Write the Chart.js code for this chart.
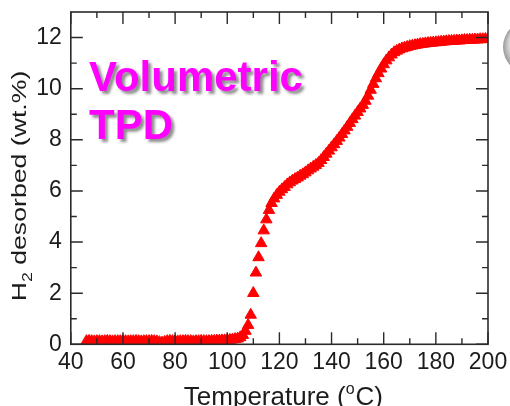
<!DOCTYPE html>
<html>
<head>
<meta charset="utf-8">
<script src="https://cdn.jsdelivr.net/npm/chart.js@4.4.1/dist/chart.umd.min.js"></script>
<style>
  html, body { margin: 0; padding: 0; background: #fff; }
  #wrap { width: 510px; height: 406px; position: relative; overflow: hidden; }
</style>
</head>
<body>
<div id="wrap"><canvas id="tpdChart" width="510" height="406"></canvas></div>
<script>
// ===== DATI =====
const temperature = [
  46, 47, 48, 49, 50, 51, 52, 53, 54, 55,
  56, 57, 58, 59, 60, 61, 62, 63, 64, 65,
  66, 67, 68, 69, 70, 71, 72, 73, 74, 75,
  76, 77, 78, 79, 80, 81, 82, 83, 84, 85,
  86, 87, 88, 89, 90, 91, 92, 93, 94, 95,
  96, 97, 98, 99, 100, 101, 102, 103, 104, 105,
  106, 107, 108, 109, 110, 111, 112, 113, 114, 115,
  116, 117, 118, 119, 120, 121, 122, 123, 124, 125,
  126, 127, 128, 129, 130, 131, 132, 133, 134, 135,
  136, 137, 138, 139, 140, 141, 142, 143, 144, 145,
  146, 147, 148, 149, 150, 151, 152, 153, 154, 155,
  156, 157, 158, 159, 160, 161, 162, 163, 164, 165,
  166, 167, 168, 169, 170, 171, 172, 173, 174, 175,
  176, 177, 178, 179, 180, 181, 182, 183, 184, 185,
  186, 187, 188, 189, 190, 191, 192, 193, 194, 195,
  196, 197, 198, 199, 200,
];

const h2Desorbed = [
  0.12, 0.13, 0.12, 0.11, 0.12, 0.12, 0.11, 0.12, 0.13, 0.12,
  0.11, 0.12, 0.12, 0.12, 0.13, 0.12, 0.11, 0.12, 0.12, 0.13,
  0.12, 0.11, 0.12, 0.12, 0.12, 0.13, 0.12, 0.11, 0.08, 0.06,
  0.09, 0.12, 0.13, 0.12, 0.12, 0.11, 0.12, 0.12, 0.13, 0.12,
  0.12, 0.11, 0.12, 0.12, 0.13, 0.12, 0.12, 0.12, 0.13, 0.13,
  0.14, 0.14, 0.15, 0.15, 0.16, 0.17, 0.18, 0.2, 0.22, 0.27,
  0.36, 0.52, 0.75, 1.15, 2.0, 2.8, 3.4, 3.95, 4.45, 4.88,
  5.25, 5.52, 5.7, 5.84, 5.96, 6.06, 6.15, 6.25, 6.33, 6.4,
  6.46, 6.52, 6.59, 6.65, 6.72, 6.8, 6.87, 6.94, 7.01, 7.09,
  7.2, 7.32, 7.45, 7.57, 7.7, 7.82, 7.95, 8.08, 8.22, 8.36,
  8.5, 8.65, 8.8, 8.94, 9.08, 9.22, 9.36, 9.52, 9.72, 9.95,
  10.18, 10.4, 10.6, 10.78, 10.95, 11.1, 11.22, 11.33, 11.42, 11.48,
  11.53, 11.57, 11.6, 11.63, 11.66, 11.68, 11.7, 11.72, 11.74, 11.75,
  11.77, 11.78, 11.79, 11.8, 11.81, 11.82, 11.83, 11.84, 11.85, 11.86,
  11.86, 11.87, 11.88, 11.88, 11.89, 11.9, 11.9, 11.91, 11.91, 11.92,
  11.92, 11.93, 11.93, 11.94, 11.94,
];

// tick (maggiori e minori)
const xTicks = [40, 60, 80, 100, 120, 140, 160, 180, 200];
const xMinorTicks = [50, 70, 90, 110, 130, 150, 170, 190];
const yTicks = [0, 2, 4, 6, 8, 10, 12];
const yMinorTicks = [1, 3, 5, 7, 9, 11];

const AXIS_COLOR = "#2a2a2a";
const TEXT_COLOR = "#1c1c1c";
const FONT = "'Liberation Sans', Arial, sans-serif";

// ===== CORNICE, TICK INTERNI, TITOLI =====
const framePlugin = {
  id: "frame",
  afterDraw(chart) {
    const { ctx, chartArea: a } = chart;
    const x = chart.scales.x;
    const y = chart.scales.y;

    ctx.save();
    ctx.strokeStyle = AXIS_COLOR;
    ctx.lineWidth = 1.6;
    ctx.strokeRect(a.left, a.top, a.right - a.left, a.bottom - a.top);

    ctx.lineWidth = 1.4;
    ctx.beginPath();
    const xTick = (v, len) => {
      const px = x.getPixelForValue(v);
      ctx.moveTo(px, a.bottom); ctx.lineTo(px, a.bottom - len);
      ctx.moveTo(px, a.top); ctx.lineTo(px, a.top + len);
    };
    const yTick = (v, len) => {
      const py = y.getPixelForValue(v);
      ctx.moveTo(a.left, py); ctx.lineTo(a.left + len, py);
      ctx.moveTo(a.right, py); ctx.lineTo(a.right - len, py);
    };
    xTicks.forEach((v) => xTick(v, 12));
    xMinorTicks.forEach((v) => xTick(v, 6));
    yTicks.forEach((v) => yTick(v, 12));
    yMinorTicks.forEach((v) => yTick(v, 6));
    ctx.stroke();

    // Titolo asse X con apice
    ctx.fillStyle = TEXT_COLOR;
    ctx.textBaseline = "alphabetic";
    ctx.textAlign = "left";
    const big = `26px ${FONT}`;
    const small = `16px ${FONT}`;
    ctx.font = big;
    const w1 = ctx.measureText("Temperature (").width;
    const w3 = ctx.measureText("C)").width;
    ctx.font = small;
    const w2 = ctx.measureText("o").width + 1;
    let cx = (a.left + a.right) / 2 + 4 - (w1 + w2 + w3) / 2;
    const base = 405;
    ctx.font = big;
    ctx.fillText("Temperature (", cx, base);
    ctx.font = small;
    ctx.fillText("o", cx + w1, base - 11);
    ctx.font = big;
    ctx.fillText("C)", cx + w1 + w2, base);

    // Titolo asse Y con pedice
    const yBig = `21px ${FONT}`;
    const ySmall = `14px ${FONT}`;
    const stretch = 1.27;
    ctx.font = yBig;
    const h1 = ctx.measureText("H").width;
    const h3 = ctx.measureText(" desorbed (wt.%)").width;
    ctx.font = ySmall;
    const h2 = ctx.measureText("2").width;
    const total = (h1 + h2 + h3) * stretch;
    ctx.translate(26, 186);
    ctx.rotate(-Math.PI / 2);
    ctx.scale(stretch, 1);
    let tx = -total / 2 / stretch;
    ctx.font = yBig;
    ctx.fillText("H", tx, 0);
    ctx.font = ySmall;
    ctx.fillText("2", tx + h1, 6);
    ctx.font = yBig;
    ctx.fillText(" desorbed (wt.%)", tx + h1 + h2, 0);
    ctx.restore();

    // Etichetta "Volumetric TPD"
    ctx.save();
    ctx.font = `bold 42px ${FONT}`;
    ctx.fillStyle = "#ff00ff";
    ctx.shadowColor = "rgba(0,0,0,0.45)";
    ctx.shadowOffsetX = 3;
    ctx.shadowOffsetY = 3;
    ctx.shadowBlur = 3;
    ctx.fillText("Volumetric", 89, 91);
    ctx.fillText("TPD", 89, 139);
    ctx.restore();

    // sfera grigia tagliata sul bordo destro
    ctx.save();
    const g = ctx.createRadialGradient(522, 40, 4, 530, 47, 27);
    g.addColorStop(0, "#ffffff");
    g.addColorStop(0.6, "#d8d8d8");
    g.addColorStop(1, "#9a9a9a");
    ctx.fillStyle = g;
    ctx.beginPath();
    ctx.arc(530, 47, 27, 0, Math.PI * 2);
    ctx.fill();
    ctx.restore();
  },
};

// ===== GRAFICO =====
const ctx = document.getElementById("tpdChart").getContext("2d");
const tpdChart = new Chart(ctx, {
  type: "scatter",
  data: {
    datasets: [
      {
        data: temperature.map((t, i) => ({ x: t, y: h2Desorbed[i] })),
        pointStyle: "triangle",
        pointRadius: 6.6,
        pointHoverRadius: 6.6,
        backgroundColor: "#ff0000",
        borderColor: "#ff0000",
        borderWidth: 1,
        showLine: false,
        clip: 0,
      },
    ],
  },
  options: {
    responsive: false,
    animation: false,
    devicePixelRatio: 1,
    layout: { padding: { top: 12, right: 22, left: 0, bottom: 0 } },
    plugins: { legend: { display: false }, tooltip: { enabled: false } },
    scales: {
      x: {
        type: "linear",
        min: 40,
        max: 200,
        grid: { display: false, drawTicks: false },
        border: { display: false },
        afterBuildTicks: (scale) => {
          scale.ticks = xTicks.map((v) => ({ value: v }));
        },
        afterFit: (scale) => {
          scale.height = 61.7;
          scale.paddingLeft = 0;
          scale.paddingRight = 0;
        },
        ticks: {
          padding: 5,
          color: TEXT_COLOR,
          font: { family: FONT, size: 23 },
          maxRotation: 0,
        },
      },
      y: {
        type: "linear",
        min: 0,
        max: 13,
        grid: { display: false, drawTicks: false },
        border: { display: false },
        afterBuildTicks: (scale) => {
          scale.ticks = yTicks.map((v) => ({ value: v }));
        },
        afterFit: (scale) => {
          scale.width = 70.8;
          scale.paddingTop = 0;
          scale.paddingBottom = 0;
        },
        ticks: {
          padding: 9,
          color: TEXT_COLOR,
          font: { family: FONT, size: 23 },
        },
      },
    },
  },
  plugins: [framePlugin],
});
</script>
</body>
</html>
